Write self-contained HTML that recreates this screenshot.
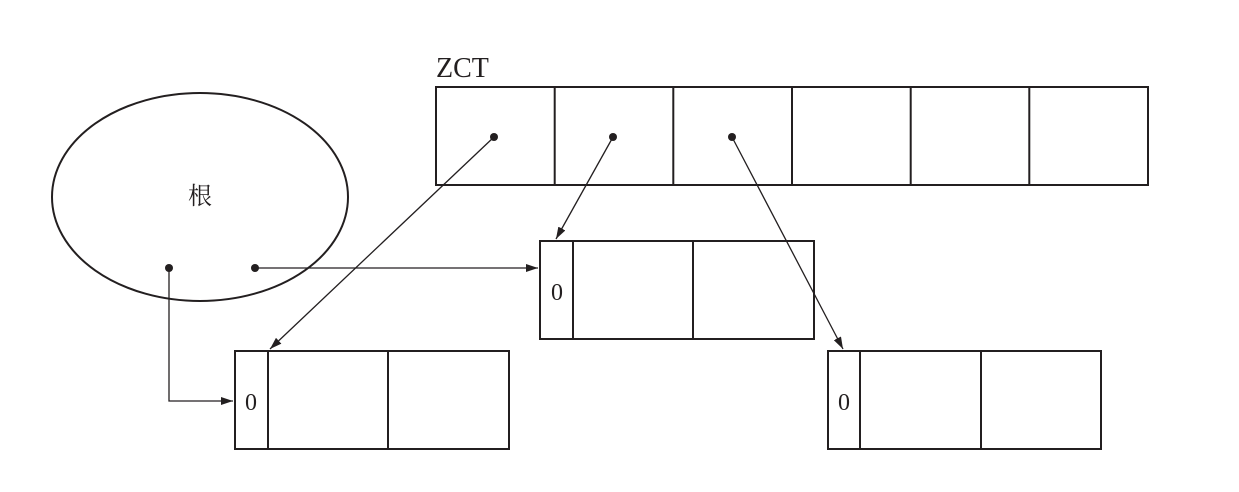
<!DOCTYPE html>
<html><head><meta charset="utf-8"><style>
html,body{margin:0;padding:0;background:#fff;}
svg{display:block;}
text{font-family:"Liberation Serif","Noto Serif CJK SC",serif;fill:#231f20;}
</style></head><body>
<svg width="1239" height="492" viewBox="0 0 1239 492">
<defs><marker id="ah" viewBox="0 0 12 8" refX="12" refY="4" markerWidth="12" markerHeight="8" markerUnits="userSpaceOnUse" orient="auto"><path d="M0,0 L12,4 L0,8 z" fill="#231f20"/></marker></defs>
<g stroke="#231f20" fill="none" stroke-width="2">
<text x="436" y="77" font-size="28" stroke="none">ZCT</text>
<rect x="436" y="87" width="712" height="98"/>
<line x1="554.7" y1="87" x2="554.7" y2="185"/><line x1="673.3" y1="87" x2="673.3" y2="185"/><line x1="792" y1="87" x2="792" y2="185"/><line x1="910.7" y1="87" x2="910.7" y2="185"/><line x1="1029.3" y1="87" x2="1029.3" y2="185"/>
<ellipse cx="200" cy="197" rx="148" ry="104"/>
<rect x="540" y="241" width="274" height="98"/>
<line x1="573" y1="241" x2="573" y2="339"/><line x1="693" y1="241" x2="693" y2="339"/>
<rect x="235" y="351" width="274" height="98"/>
<line x1="268" y1="351" x2="268" y2="449"/><line x1="388" y1="351" x2="388" y2="449"/>
<rect x="828" y="351" width="273" height="98"/>
<line x1="860" y1="351" x2="860" y2="449"/><line x1="981" y1="351" x2="981" y2="449"/>
</g>
<text x="200" y="204" font-size="24" text-anchor="middle">根</text>
<text x="557" y="300" font-size="24" text-anchor="middle">0</text>
<text x="251" y="410" font-size="24" text-anchor="middle">0</text>
<text x="844" y="410" font-size="24" text-anchor="middle">0</text>
<g stroke="#231f20" stroke-width="1.3" fill="none" marker-end="url(#ah)">
<line x1="494" y1="137" x2="270" y2="349"/>
<line x1="613" y1="137" x2="556" y2="239"/>
<line x1="732" y1="137" x2="843" y2="349"/>
<line x1="255" y1="268" x2="538" y2="268"/>
<polyline points="169,268 169,401 233,401"/>
</g>
<g fill="#231f20">
<circle cx="494" cy="137" r="4"/><circle cx="613" cy="137" r="4"/><circle cx="732" cy="137" r="4"/>
<circle cx="169" cy="268" r="4"/><circle cx="255" cy="268" r="4"/>
</g>
</svg>
</body></html>
